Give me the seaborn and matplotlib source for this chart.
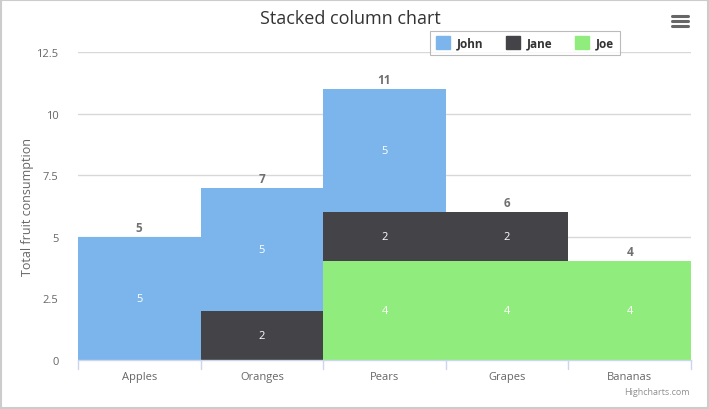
import matplotlib
matplotlib.use("Agg")
import matplotlib.pyplot as plt
import seaborn as sns
import pandas as pd
import numpy as np
from matplotlib.patches import Rectangle
from matplotlib.lines import Line2D

categories = ["Apples", "Oranges", "Pears", "Grapes", "Bananas"]
john = [5, 5, 5, 0, 0]
jane = [0, 2, 2, 2, 0]
joe = [0, 0, 4, 4, 4]
yticks = [0, 2.5, 5, 7.5, 10, 12.5]
ytick_labels = ["0", "2.5", "5", "7.5", "10", "12.5"]

colors = {"John": "#7cb5ec", "Jane": "#434348", "Joe": "#90ed7d"}

sns.set_theme(style="white")
plt.rcParams["font.family"] = ["Open Sans", "DejaVu Sans"]

fig = plt.figure(figsize=(7.09, 4.10), dpi=100)
ax = fig.add_axes([78/709, 1 - 361/410, (691-78)/709, (361-53)/410])

df = pd.DataFrame({"cat": categories, "John": john, "Jane": jane, "Joe": joe})

# stacking order: Joe bottom, Jane middle, John top
bottoms = np.zeros(len(categories))
for name, vals in [("Joe", joe), ("Jane", jane), ("John", john)]:
    sns.barplot(data=df, x="cat", y=name, order=categories, color=colors[name],
                width=1.0, bottom=bottoms.copy(), ax=ax, linewidth=0,
                saturation=1, errorbar=None)
    for i, v in enumerate(vals):
        if v > 0:
            ax.text(i, bottoms[i] + v / 2, str(v), ha="center", va="center",
                    color="white", fontsize=8)
    bottoms = bottoms + np.array(vals)

totals = bottoms
for i, tot in enumerate(totals):
    ax.text(i, tot + 0.12, f"{int(tot)}", ha="center", va="bottom",
            color="#707070", fontsize=8.5, fontweight="bold")

if ax.get_legend() is not None:
    ax.get_legend().remove()

ax.set_xlim(-0.5, 4.5)
ax.set_ylim(0, 12.5)
ax.set_yticks(yticks)
ax.set_yticklabels(ytick_labels)
ax.yaxis.grid(True, color="#d8d8d8", linewidth=1)
ax.set_axisbelow(True)
for s in ["top", "right", "left"]:
    ax.spines[s].set_visible(False)
ax.spines["bottom"].set_color("#ccd6eb")
ax.spines["bottom"].set_linewidth(1)
ax.tick_params(axis="y", length=0, labelsize=8, labelcolor="#666666", pad=14)
ax.tick_params(axis="x", length=0, labelsize=8, labelcolor="#666666", pad=8)
ax.set_xlabel("")
ax.set_ylabel("")
fig.text(27/709, 1 - 207/410, "Total fruit consumption", rotation=90,
         ha="center", va="center", fontsize=9, color="#666666")

# x tick marks at category boundaries
for b in np.arange(-0.5, 5.0, 1.0):
    ax.plot([b, b], [0, -0.35], color="#ccd6eb", lw=1, clip_on=False)

# legend
handles = [Rectangle((0, 0), 1, 1, color=colors[n]) for n in ["John", "Jane", "Joe"]]
leg = fig.legend(handles, ["John", "Jane", "Joe"], ncol=3, loc="center",
                 bbox_to_anchor=(525/709, 1 - 44/410), frameon=True,
                 prop={"size": 8.5, "weight": "bold"}, handlelength=1.2,
                 handleheight=1.2, columnspacing=1.9, handletextpad=0.6,
                 borderpad=0.45, fancybox=False)
leg.get_frame().set_edgecolor("#aaaaaa")
leg.get_frame().set_linewidth(0.8)
for t in leg.get_texts():
    t.set_color("#333333")

fig.text(350/709, 1 - 19/410, "Stacked column chart", ha="center", va="center",
         fontsize=13, color="#333333")
fig.text(690/709, 1 - 393/410, "Highcharts.com", ha="right", va="center",
         fontsize=6.5, color="#909090")

# menu icon
for yy in [17, 22, 27]:
    fig.add_artist(Line2D([672/709, 688/709], [1 - yy/410, 1 - yy/410],
                          color="#666666", lw=2.2, solid_capstyle="round"))

# outer border
fig.add_artist(Rectangle((0.001, 0.002), 0.997, 0.996, transform=fig.transFigure,
                         fill=False, edgecolor="#cccccc", lw=1.5))

fig.savefig("out.png", dpi=100)
